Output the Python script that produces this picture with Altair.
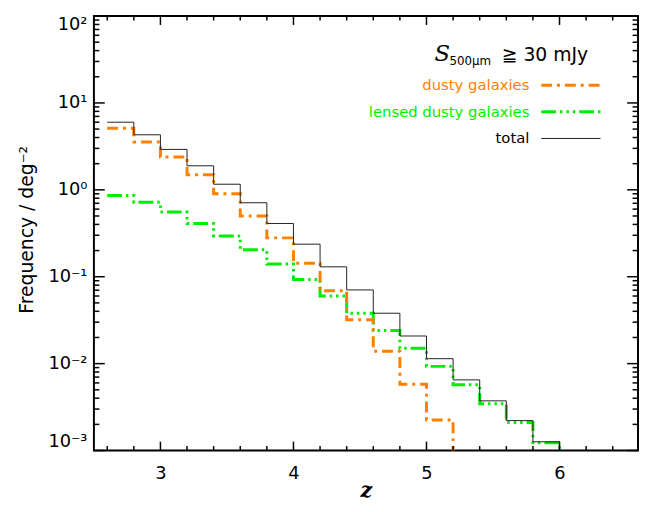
import altair as alt
import pandas as pd

# ---- data ----
bin_left = [2.6, 2.8, 3.0, 3.2, 3.4, 3.6, 3.8, 4.0, 4.2, 4.4, 4.6, 4.8, 5.0, 5.2, 5.4, 5.6, 5.8]
bin_end = 6.0
dusty = [5.1, 3.56, 2.39, 1.49, 0.90, 0.50, 0.28, 0.143, 0.069, 0.032, 0.0139, 0.0058, 0.00225,
         0, 0, 0, 0]
lensed = [0.86, 0.72, 0.557, 0.41, 0.295, 0.204, 0.14, 0.093, 0.060, 0.038, 0.024, 0.015, 0.0093,
          0.0057, 0.00345, 0.0021, 0.00123]
total = [6.0, 4.3, 2.92, 1.89, 1.16, 0.71, 0.41, 0.237, 0.130, 0.0705, 0.038, 0.0208, 0.0114,
         0.0065, 0.00373, 0.00221, 0.00126]

x_major = [3, 4, 5, 6]
x_minor = [2.6, 2.8, 3.2, 3.4, 3.6, 3.8, 4.2, 4.4, 4.6, 4.8, 5.2, 5.4, 5.6, 5.8, 6.2, 6.4]
y_major = [0.001, 0.01, 0.1, 1, 10, 100]
y_minor = [k * 10.0 ** e for e in range(-3, 2) for k in range(2, 10)]

W, H = 551, 440
FLOOR = 1e-7
FONT = "DejaVu Sans"

xs = alt.Scale(domain=[2.5, 6.59], nice=False, zero=False)
ys = alt.Scale(type="log", domain=[1e-3, 100], nice=False)


def steps(vals):
    rows = [{"z": z, "f": max(v, FLOOR)} for z, v in zip(bin_left, vals)]
    rows.append({"z": bin_end, "f": FLOOR})
    return pd.DataFrame(rows)


y_label_expr = ("datum.value > 50 ? '10²' : datum.value > 5 ? '10¹' : datum.value > 0.5 ? '10⁰' : "
                "datum.value > 0.05 ? '10⁻¹' : datum.value > 0.005 ? '10⁻²' : '10⁻³'")

x_axis = alt.Axis(values=x_major, ticks=False, domain=False, grid=False, labelFontSize=18,
                  labelPadding=14, labelFont=FONT, labelColor="black", labelOverlap=False,
                  title="z", titleFont="DejaVu Serif", titleFontStyle="italic", titleFontSize=21,
                  titleFontWeight="bold", titleColor="black", titleY=47, titleBaseline="alphabetic")
y_axis = alt.Axis(values=y_major, labelExpr=y_label_expr, ticks=False, domain=False, grid=False,
                  labelFlush=True, labelOverlap=False, labelPadding=7, labelFontSize=18,
                  labelFont=FONT, labelColor="black",
                  title="Frequency  /  deg⁻²", titleFont=FONT, titleFontSize=19,
                  titleFontWeight="normal", titleColor="black", titleX=-68, titleY=216,
                  titleBaseline="middle", titleAngle=270)

X = alt.X("z:Q", scale=xs, axis=x_axis)
Y = alt.Y("f:Q", scale=ys, axis=y_axis)

lensed_line = alt.Chart(steps(lensed)).mark_line(
    interpolate="step-after", color="#00EE00", strokeWidth=3, clip=True,
    strokeDash=[15, 4, 2.5, 4, 2.5, 4, 2.5, 4]
).encode(x=X, y=Y)

dusty_line = alt.Chart(steps(dusty)).mark_line(
    interpolate="step-after", color="#FF8000", strokeWidth=3, clip=True,
    strokeDash=[11, 5, 3, 5]
).encode(x=X, y=Y)

total_line = alt.Chart(steps(total)).mark_line(
    interpolate="step-after", color="#222222", strokeWidth=1, clip=True
).encode(x=X, y=Y)


def xticks(vals, y0, y1):
    return alt.Chart(pd.DataFrame({"z": vals})).mark_rule(color="black", strokeWidth=1.5).encode(
        x=X, y=alt.value(y0), y2=alt.value(y1))


def yticks(vals, x0, x1):
    return alt.Chart(pd.DataFrame({"f": vals})).mark_rule(color="black", strokeWidth=1.5).encode(
        y=Y, x=alt.value(x0), x2=alt.value(x1))


tick_layers = [
    xticks(x_major, H, H - 9), xticks(x_minor, H, H - 4.5),
    xticks(x_major, 0, 9), xticks(x_minor, 0, 4.5),
    yticks(y_major, 0, 11), yticks(y_minor, 0, 5.5),
    yticks(y_major, W, W - 11), yticks(y_minor, W, W - 5.5),
]


def label(text, x, y, size, color="black", align="left", style="normal", baseline="alphabetic",
          font=FONT):
    return alt.Chart(pd.DataFrame({"t": [text]})).mark_text(
        align=align, baseline=baseline, fontSize=size, color=color, font=font, fontStyle=style
    ).encode(x=alt.value(x), y=alt.value(y), text="t:N")


def legend_line(y, color, width, dash=None):
    kw = dict(color=color, strokeWidth=width)
    if dash:
        kw["strokeDash"] = dash
    return alt.Chart(pd.DataFrame({"a": [0]})).mark_rule(**kw).encode(
        x=alt.value(453), x2=alt.value(513), y=alt.value(y))


annot = [
    label("S", 345, 46, 23, style="italic", font="DejaVu Serif"),
    label("500μm", 360, 50, 12),
    label("≧ 30 mJy", 413, 46, 19),
    label("dusty galaxies", 441, 70, 15, color="#FF8000", align="right", baseline="middle"),
    label("lensed dusty galaxies", 441, 97, 15, color="#00EE00", align="right", baseline="middle"),
    label("total", 441, 124, 15, align="right", baseline="middle"),
    legend_line(70, "#FF8000", 3, [11, 5, 3, 5]),
    legend_line(97, "#00EE00", 3, [15, 4, 2.5, 4, 2.5, 4, 2.5, 4]),
    legend_line(124, "#222222", 1),
]

chart = alt.layer(lensed_line, dusty_line, total_line, *tick_layers, *annot).properties(
    width=W, height=H,
    autosize=alt.AutoSizeParams(type="none"),
    padding={"left": 87, "top": 5, "right": 1, "bottom": 50},
    background="white",
).configure_view(stroke="black", strokeWidth=2)

chart.save("out.html", embed_options={"renderer": "svg", "actions": False})
